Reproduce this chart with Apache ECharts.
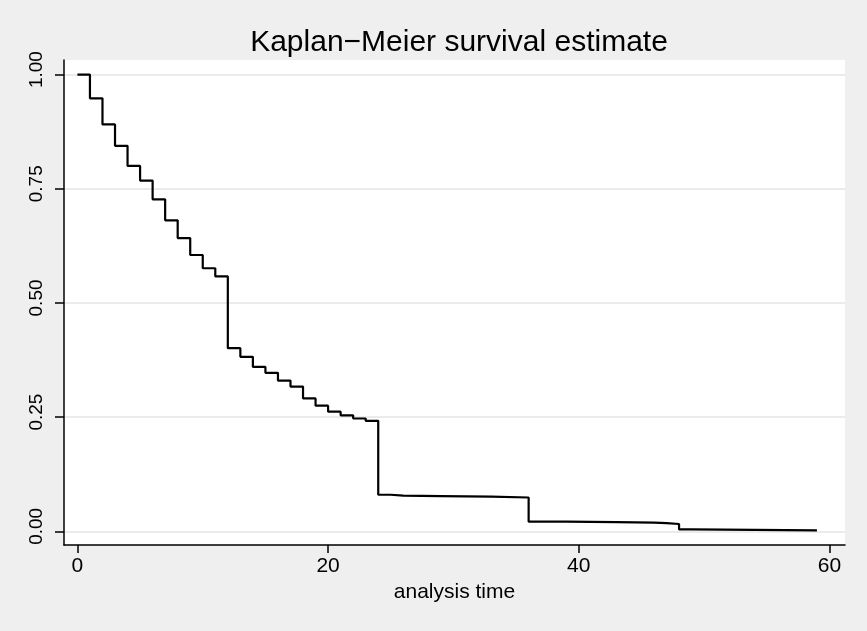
<!DOCTYPE html>
<html>
<head>
<meta charset="utf-8">
<script src="https://cdn.jsdelivr.net/npm/echarts@6/dist/echarts.min.js"></script>
<style>
html,body{margin:0;padding:0;background:#efefef;}
#chart{width:867px;height:631px;}
</style>
</head>
<body>
<div id="chart"></div>
<script>
const titleText = "Kaplan\u2212Meier survival estimate";
const xAxisName = "analysis time";
const times = [0,1,2,3,4,5,6,7,8,9,10,11,12,13,14,15,16,17,18,19,20,21,22,23,24,25,26,29,33,36,39,43,46,47,48,49,59];
const survival = [1.000,0.948,0.891,0.844,0.800,0.768,0.727,0.681,0.642,0.605,0.576,0.558,0.401,0.382,0.360,0.347,0.330,0.317,0.291,0.275,0.262,0.254,0.247,0.242,0.080,0.078,0.077,0.076,0.074,0.021,0.020,0.019,0.018,0.016,0.004,0.002,0.002];
const xTicks = [0,20,40,60];
const yTicks = [0,0.25,0.5,0.75,1];

const chart = echarts.init(document.getElementById('chart'));
const font = "'Liberation Sans', Arial, Helvetica, sans-serif";
chart.setOption({
  backgroundColor: '#efefef',
  animation: false,
  title: {
    text: titleText,
    left: 454,
    textAlign: 'center',
    top: 23,
    textStyle: {fontFamily: font, fontSize: 30, fontWeight: 'normal', color: '#000'}
  },
  grid: {left: 64, right: 22, top: 60, bottom: 86, show: true, backgroundColor: '#ffffff', borderWidth: 0},
  xAxis: {
    type: 'value',
    min: -1.07, max: 61.24,
    name: xAxisName,
    nameLocation: 'middle',
    nameGap: 36,
    nameTextStyle: {fontFamily: font, fontSize: 21, color: '#000'},
    axisLine: {onZero: false, lineStyle: {color: '#000', width: 1.5}},
    axisTick: {customValues: xTicks, length: 8, lineStyle: {color: '#000', width: 1.5}},
    axisLabel: {customValues: xTicks, margin: 11, fontFamily: font, fontSize: 21, color: '#000'},
    splitLine: {show: false}
  },
  yAxis: {
    type: 'value',
    min: -0.03, max: 1.032,
    axisLine: {show: true, onZero: false, lineStyle: {color: '#000', width: 1.5}},
    axisTick: {show: true, customValues: yTicks, length: 9, lineStyle: {color: '#000', width: 1.5}},
    axisLabel: {customValues: yTicks, rotate: 90, margin: 18, fontFamily: font, fontSize: 19, color: '#000',
      padding: [0, 0, 0, 10],
      formatter: v => v.toFixed(2)},
    splitLine: {show: true, lineStyle: {color: '#e4e4e4', width: 1.5}}
  },
  series: [{
    type: 'line',
    step: 'end',
    symbol: 'none',
    lineStyle: {color: '#000', width: 2.2},
    data: times.map((t, i) => [t, survival[i]])
  }]
});
</script>
</body>
</html>
